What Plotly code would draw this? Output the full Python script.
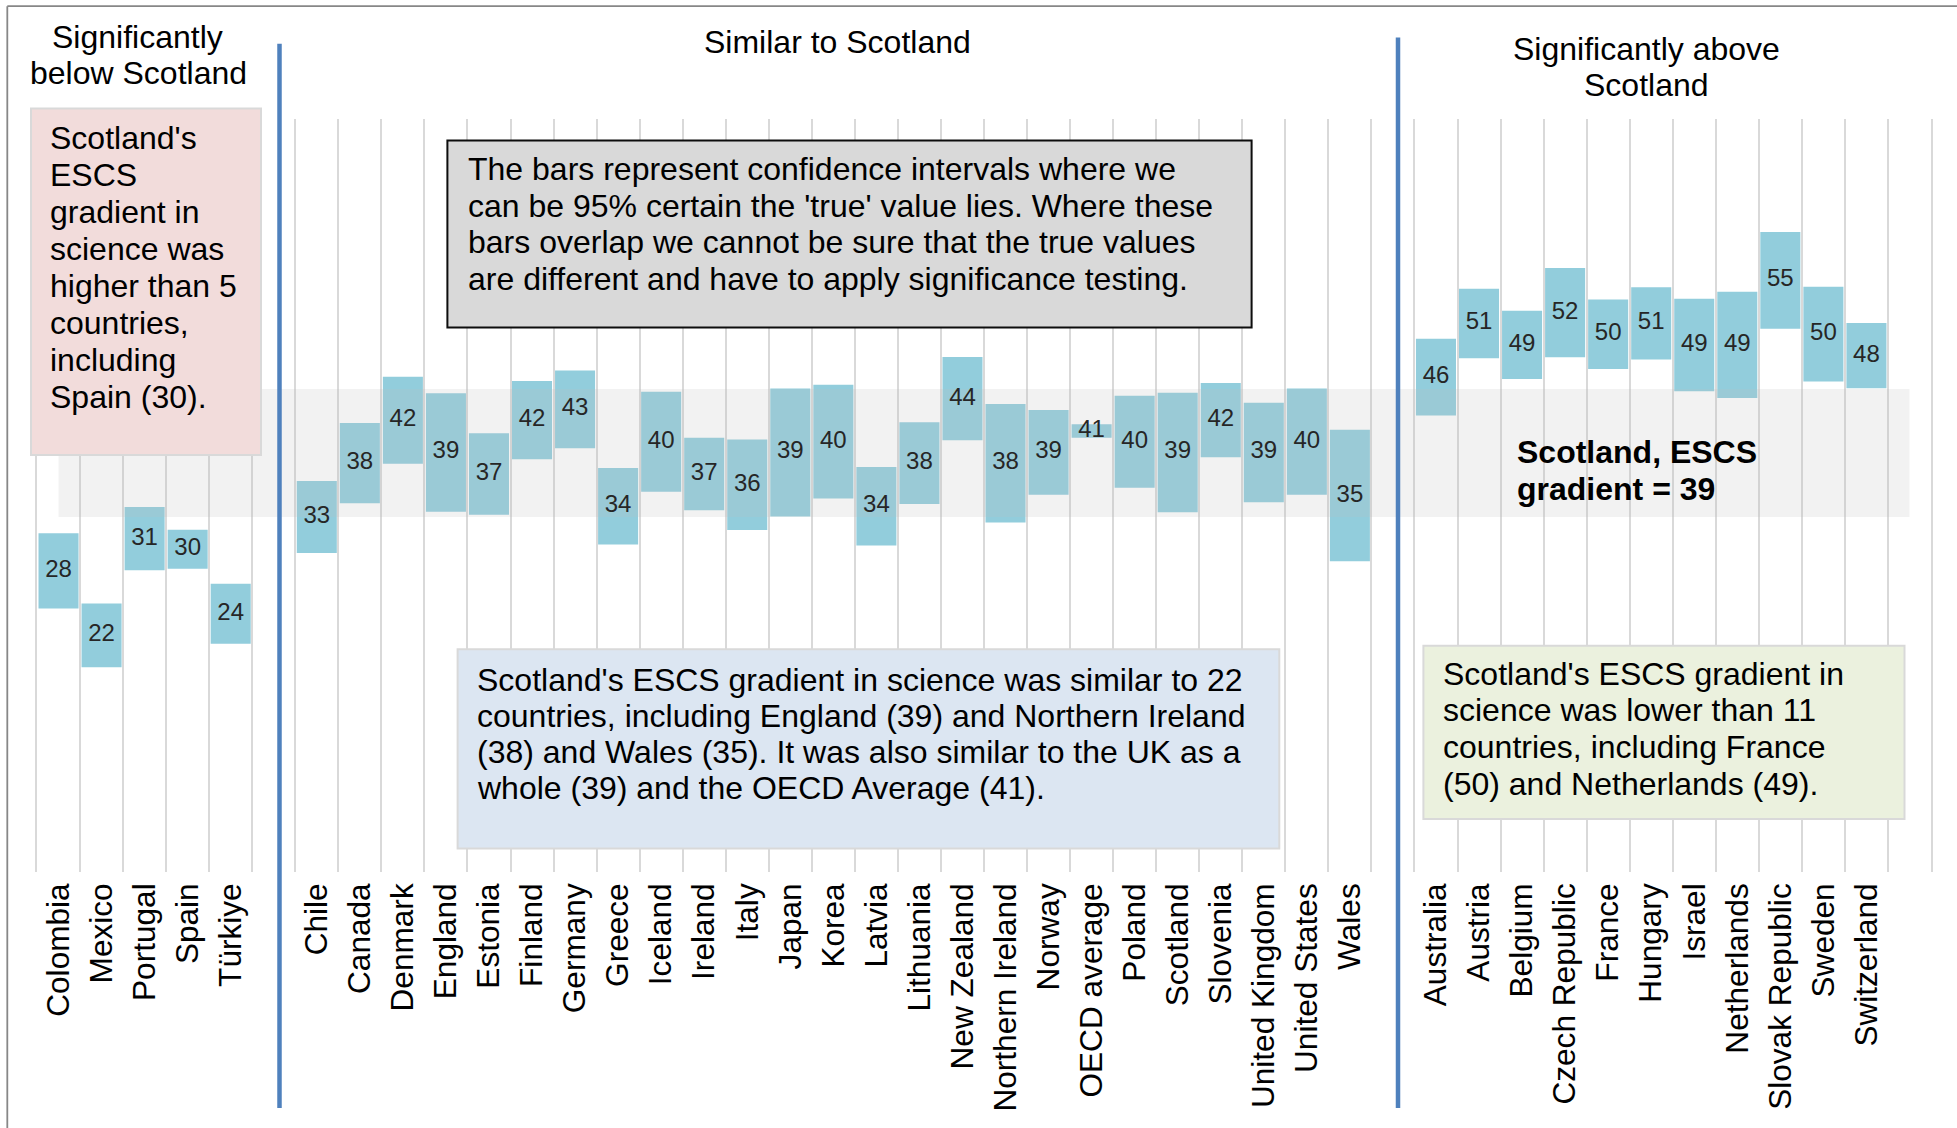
import plotly.graph_objects as go

FONT = "Liberation Sans, Arial, sans-serif"

# ESCS gradient in science (score-point difference) and 95% CI half-widths
countries_below = ["Colombia", "Mexico", "Portugal", "Spain", "Türkiye"]
below_values = [28, 22, 31, 30, 24]
below_margins = [3.50, 2.96, 2.94, 1.82, 2.79]

countries_similar = [
    "Chile", "Canada", "Denmark", "England", "Estonia", "Finland", "Germany",
    "Greece", "Iceland", "Ireland", "Italy", "Japan", "Korea", "Latvia",
    "Lithuania", "New Zealand", "Northern Ireland", "Norway", "OECD average",
    "Poland", "Scotland", "Slovenia", "United Kingdom", "United States", "Wales",
]
similar_values = [33, 38, 42, 39, 37, 42, 43, 34, 40, 37, 36, 39, 40, 34, 38,
                  44, 38, 39, 41, 40, 39, 42, 39, 40, 35]
similar_margins = [3.34, 3.73, 4.05, 5.51, 3.78, 3.64, 3.61, 3.55, 4.64, 3.38,
                   4.21, 5.95, 5.29, 3.64, 3.80, 3.87, 5.51, 3.94, 0.62, 4.28,
                   5.56, 3.45, 4.62, 4.94, 6.11]

countries_above = ["Australia", "Austria", "Belgium", "Czech Republic", "France",
                   "Hungary", "Israel", "Netherlands", "Slovak Republic",
                   "Sweden", "Switzerland"]
above_values = [46, 51, 49, 52, 50, 51, 49, 49, 55, 50, 48]
above_margins = [3.57, 3.23, 3.18, 4.14, 3.23, 3.36, 4.30, 4.94, 4.50, 4.41, 3.04]

# shaded reference band for Scotland (lower, upper)
scotland_band = [33.0, 44.9]

group_titles = [["Significantly", "below Scotland"],
                ["Similar to Scotland"],
                ["Significantly above", "Scotland"]]

note_below = ["Scotland's", "ESCS", "gradient in", "science was",
              "higher than 5", "countries,", "including", "Spain (30)."]
note_ci = ["The bars represent confidence intervals where we",
           "can be 95% certain the 'true' value lies. Where these",
           "bars overlap we cannot be sure that the true values",
           "are different and have to apply significance testing."]
note_similar = ["Scotland's ESCS gradient in science was similar to 22",
                "countries, including England (39) and Northern Ireland",
                "(38) and Wales (35). It was also similar to the UK as a",
                "whole (39) and the OECD Average (41)."]
note_above = ["Scotland's ESCS gradient in",
              "science was lower than 11",
              "countries, including France",
              "(50) and Netherlands (49)."]
scotland_label = ["Scotland, ESCS", "gradient = 39"]

# blank slots separate the three groups on the category axis
categories = (countries_below + [" "] + countries_similar + ["  "]
              + countries_above + ["   "])
countries = countries_below + countries_similar + countries_above
values = below_values + similar_values + above_values
margins = below_margins + similar_margins + above_margins

# canvas geometry (pixels)
W, H = 1957, 1128
M_L, M_R, M_T, M_B = 37, 26, 118.6, 255.6
PW = W - M_L - M_R
PH = H - M_T - M_B


def px(x):
    return (x - M_L) / PW


def py(y):
    return (H - M_B - y) / PH


fig = go.Figure()

# confidence-interval bars
fig.add_trace(go.Bar(
    x=countries,
    y=[2 * m for m in margins],
    base=[v - m for v, m in zip(values, margins)],
    marker=dict(color="#92CDDC", line=dict(width=0)),
    hoverinfo="skip",
))

# Scotland's interval as a translucent band across the whole chart
band_x = [categories[0], categories[-1]]
fig.add_trace(go.Scatter(x=band_x, y=[scotland_band[1]] * 2, mode="lines",
                         line=dict(width=0), hoverinfo="skip"))
fig.add_trace(go.Scatter(x=band_x, y=[scotland_band[0]] * 2, mode="lines",
                         line=dict(width=0), fill="tonexty",
                         fillcolor="rgba(191,191,191,0.2)", hoverinfo="skip"))

# value labels
fig.add_trace(go.Scatter(
    x=countries, y=values, mode="text",
    text=[str(v) for v in values], textposition="middle center",
    textfont=dict(family=FONT, size=24, color="#262626"),
    hoverinfo="skip",
))

shapes = []
# outer frame (top and left edges)
shapes.append(dict(type="line", xref="paper", yref="paper",
                   x0=px(7.3), x1=px(W + 5), y0=py(5.7), y1=py(5.7),
                   line=dict(color="#878787", width=1.8)))
shapes.append(dict(type="line", xref="paper", yref="paper",
                   x0=px(7.3), x1=px(7.3), y0=py(5.7), y1=py(H + 5),
                   line=dict(color="#878787", width=1.8)))
# group separators
for sx, top in [(279.5, 43.3), (1398, 37.1)]:
    shapes.append(dict(type="line", xref="paper", yref="paper",
                       x0=px(sx), x1=px(sx), y0=py(top), y1=py(1108.7),
                       line=dict(color="#4F81BD", width=4.5)))


def box(x0, y0, x1, y1, fill, edge, width):
    shapes.append(dict(type="rect", xref="paper", yref="paper", layer="above",
                       x0=px(x0), x1=px(x1), y0=py(y1), y1=py(y0),
                       fillcolor=fill, line=dict(color=edge, width=width)))


box(31, 108, 261, 455, "#F2DCDB", "#D9D9D9", 2)
box(447.4, 140, 1251.6, 327.3, "#D9D9D9", "#0D0D0D", 2)
box(457.6, 649.3, 1279.3, 849, "#DCE6F2", "#D9D9D9", 2)
box(1423.4, 646, 1904.5, 819.3, "#EBF1DE", "#D9D9D9", 2)

annotations = []
FS = 32


def line_text(txt, x, baseline, anchor="left", bold=False, size=FS):
    annotations.append(dict(
        text=f"<b>{txt}</b>" if bold else txt,
        xref="paper", yref="paper", x=px(x), y=py(baseline - 0.3465 * size),
        xanchor=anchor, yanchor="middle", showarrow=False,
        borderpad=0, borderwidth=0,
        font=dict(family=FONT, size=size, color="black"),
    ))


# group headings
line_text(group_titles[0][0], 137, 47.5, "center")
line_text(group_titles[0][1], 138.7, 84, "center")
line_text(group_titles[1][0], 837, 52.7, "center")
line_text(group_titles[2][0], 1646.7, 59.3, "center")
line_text(group_titles[2][1], 1646.7, 95.6, "center")

for i, t in enumerate(note_below):
    line_text(t, 49.8, 148.5 + 37 * i)
for i, t in enumerate(note_ci):
    line_text(t, 467.5, 180 + 36.5 * i)
for i, t in enumerate(note_similar):
    line_text(t, 476.7, 691 + 36 * i)
for i, t in enumerate(note_above):
    line_text(t, 1443, 685 + 36.7 * i)
for i, t in enumerate(scotland_label):
    line_text(t, 1516.5, 463 + 37 * i, bold=True)

fig.update_layout(
    width=W, height=H,
    margin=dict(l=M_L, r=M_R, t=M_T, b=M_B, pad=0),
    paper_bgcolor="white", plot_bgcolor="white",
    showlegend=False, bargap=0.07,
    xaxis=dict(
        type="category", categoryorder="array", categoryarray=categories,
        range=[-0.5, len(categories) - 0.5],
        tickson="boundaries", showgrid=True, gridcolor="#D9D9D9", gridwidth=1.5,
        ticks="", tickangle=-90, ticklabelstandoff=4,
        tickfont=dict(family=FONT, size=31.6, color="black"),
        showline=False, zeroline=False, fixedrange=True,
    ),
    yaxis=dict(
        range=[0, 70], showgrid=False, zeroline=False, showticklabels=False,
        ticks="", showline=True, mirror=True, linecolor="#D9D9D9",
        linewidth=1.5, fixedrange=True,
    ),
    shapes=shapes,
    annotations=annotations,
)

fig.write_html("out.html")
